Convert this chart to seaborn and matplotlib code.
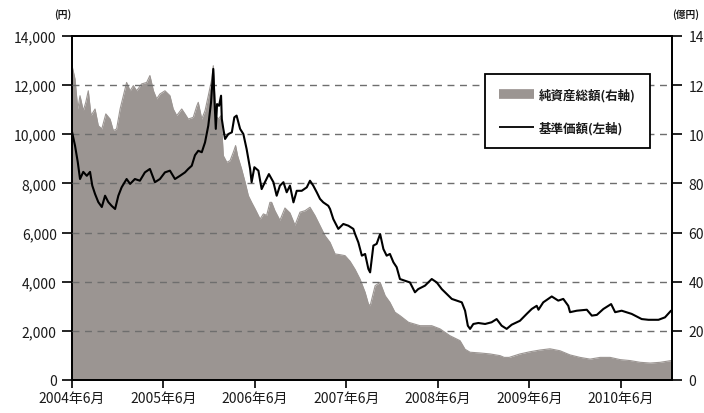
import matplotlib
matplotlib.use("Agg")
import matplotlib.pyplot as plt
from matplotlib.lines import Line2D
from matplotlib.ticker import FixedLocator, FuncFormatter
import seaborn as sns
import pandas as pd

# 基準価額 (left axis, 円)
nav_dates = [
    "2004-06-01", "2004-06-13", "2004-06-24", "2004-07-03", "2004-07-16", "2004-07-30",
    "2004-08-12", "2004-08-21", "2004-09-01", "2004-09-14", "2004-09-28", "2004-10-11",
    "2004-10-24", "2004-11-06", "2004-11-20", "2004-12-03", "2004-12-16", "2005-01-05",
    "2005-01-19", "2005-02-07", "2005-02-27", "2005-03-19", "2005-04-08", "2005-04-28",
    "2005-05-18", "2005-06-07", "2005-06-27", "2005-07-17", "2005-08-06", "2005-08-26",
    "2005-09-08", "2005-09-22", "2005-10-05", "2005-10-18", "2005-11-01", "2005-11-14",
    "2005-11-27", "2005-12-08", "2005-12-17", "2005-12-21", "2005-12-27", "2006-01-01",
    "2006-01-09", "2006-01-17", "2006-01-20", "2006-01-26", "2006-02-02", "2006-02-15",
    "2006-03-01", "2006-03-11", "2006-03-20", "2006-04-03", "2006-04-16", "2006-04-29",
    "2006-05-13", "2006-05-19", "2006-05-30", "2006-06-15", "2006-06-28", "2006-07-11",
    "2006-07-27", "2006-08-14", "2006-08-27", "2006-09-09", "2006-09-23", "2006-10-06",
    "2006-10-19", "2006-11-02", "2006-11-15", "2006-12-05", "2006-12-25", "2007-01-07",
    "2007-01-20", "2007-02-03", "2007-02-16", "2007-03-01", "2007-03-21", "2007-03-28",
    "2007-04-10", "2007-04-30", "2007-05-20", "2007-06-09", "2007-06-29", "2007-07-06",
    "2007-07-19", "2007-08-02", "2007-08-15", "2007-08-28", "2007-09-04", "2007-09-17",
    "2007-09-30", "2007-10-14", "2007-10-27", "2007-11-09", "2007-11-22", "2007-12-06",
    "2007-12-19", "2008-01-01", "2008-01-21", "2008-02-10", "2008-03-01", "2008-03-14",
    "2008-04-10", "2008-05-07", "2008-05-27", "2008-06-16", "2008-07-06", "2008-07-26",
    "2008-08-15", "2008-09-04", "2008-09-17", "2008-09-28", "2008-10-07", "2008-10-20",
    "2008-11-09", "2008-12-06", "2009-01-01", "2009-01-21", "2009-02-10", "2009-03-02",
    "2009-03-22", "2009-04-24", "2009-05-21", "2009-06-10", "2009-06-30", "2009-07-07",
    "2009-07-26", "2009-08-29", "2009-09-24", "2009-10-14", "2009-11-03", "2009-11-10",
    "2009-12-07", "2010-01-16", "2010-02-05", "2010-02-25", "2010-03-23", "2010-04-23",
    "2010-05-09", "2010-06-04", "2010-07-14", "2010-08-23", "2010-09-19", "2010-10-29",
    "2010-11-24", "2010-12-18",
]
nav_values = [
    10100, 9540, 8870, 8180, 8470, 8310,
    8470, 7910, 7570, 7240, 7040, 7500,
    7240, 7090, 6960, 7500, 7840, 8180,
    7980, 8180, 8110, 8450, 8590, 8050,
    8180, 8450, 8520, 8180, 8310, 8450,
    8590, 8720, 9150, 9330, 9270, 9670,
    10350, 11300, 12660, 11570, 10220, 11230,
    11160, 11570, 10620, 10220, 9810, 10010,
    10080, 10690, 10760, 10220, 10010, 9400,
    8590, 8050, 8660, 8520, 7770, 8050,
    8380, 8050, 7500, 7910, 8050, 7640,
    7910, 7230, 7700, 7700, 7840, 8110,
    7910, 7640, 7370, 7230, 7090, 6960,
    6550, 6150, 6350, 6280, 6150, 5940,
    5600, 5060, 5130, 4520, 4380, 5470,
    5540, 5940, 5330, 5060, 5130, 4790,
    4590, 4110, 4040, 3970, 3570, 3700,
    3840, 4110, 3970, 3700, 3500, 3300,
    3230, 3160, 2820, 2210, 2080, 2280,
    2320, 2280, 2350, 2480, 2210, 2080,
    2250, 2410, 2690, 2890, 3020, 2860,
    3160, 3400, 3230, 3300, 3020, 2760,
    2820, 2860, 2620, 2650, 2890, 3090,
    2760, 2820, 2690, 2480, 2450, 2450,
    2550, 2820,
]

# 純資産総額 (right axis, 億円)
aum_dates = [
    "2004-06-01", "2004-06-13", "2004-06-24", "2004-07-03", "2004-07-16", "2004-07-26",
    "2004-08-05", "2004-08-16", "2004-09-01", "2004-09-14", "2004-09-28", "2004-10-14",
    "2004-10-31", "2004-11-13", "2004-11-26", "2004-12-10", "2004-12-23", "2005-01-05",
    "2005-01-19", "2005-02-01", "2005-02-14", "2005-03-06", "2005-03-26", "2005-04-08",
    "2005-04-22", "2005-05-05", "2005-05-18", "2005-06-07", "2005-06-27", "2005-07-10",
    "2005-07-24", "2005-08-13", "2005-08-26", "2005-09-08", "2005-09-28", "2005-10-12",
    "2005-10-18", "2005-11-01", "2005-11-14", "2005-11-27", "2005-12-11", "2005-12-17",
    "2005-12-27", "2006-01-06", "2006-01-17", "2006-01-26", "2006-02-09", "2006-02-22",
    "2006-03-07", "2006-03-16", "2006-03-24", "2006-04-09", "2006-04-23", "2006-05-06",
    "2006-05-19", "2006-06-02", "2006-06-22", "2006-07-05", "2006-07-18", "2006-07-31",
    "2006-08-07", "2006-08-20", "2006-09-09", "2006-09-29", "2006-10-19", "2006-11-08",
    "2006-11-28", "2006-12-18", "2007-01-07", "2007-01-27", "2007-02-16", "2007-03-08",
    "2007-03-28", "2007-04-17", "2007-05-07", "2007-05-27", "2007-06-16", "2007-07-06",
    "2007-07-26", "2007-08-15", "2007-08-28", "2007-09-04", "2007-09-24", "2007-10-14",
    "2007-11-03", "2007-11-22", "2007-12-12", "2008-01-01", "2008-02-04", "2008-03-21",
    "2008-05-07", "2008-06-09", "2008-07-19", "2008-08-28", "2008-09-17", "2008-10-07",
    "2008-11-16", "2008-12-26", "2009-02-04", "2009-02-20", "2009-03-12", "2009-04-24",
    "2009-06-03", "2009-07-13", "2009-08-22", "2009-10-01", "2009-11-10", "2009-12-20",
    "2010-01-29", "2010-03-10", "2010-04-19", "2010-05-29", "2010-07-08", "2010-08-17",
    "2010-09-26", "2010-11-05", "2010-12-18",
]
aum_values = [
    1280, 1225, 1103, 1157, 1096, 1130,
    1177, 1076, 1103, 1035, 1022, 1083,
    1062, 1015, 1022, 1103, 1157, 1211,
    1177, 1198, 1177, 1205, 1211, 1239,
    1177, 1144, 1164, 1177, 1157, 1103,
    1076, 1103, 1083, 1062, 1069, 1115,
    1130, 1062, 1096, 1157, 1225, 1279,
    1076, 1062, 1076, 913, 886, 893,
    927, 954, 913, 859, 805, 750,
    723, 696, 655, 676, 670, 723,
    723, 689, 650, 700, 680, 630,
    683, 689, 703, 669, 628, 587,
    560, 513, 510, 506, 483, 450,
    410, 357, 310, 302, 384, 397,
    343, 316, 276, 262, 235, 221,
    221, 208, 180, 160, 125, 113,
    110, 106, 99, 92, 92, 106,
    115, 122, 127, 119, 102, 92,
    85, 92, 92, 83, 79, 72,
    69, 72, 79,
]

left_ticks = [0, 2000, 4000, 6000, 8000, 10000, 12000, 14000]
right_ticks = [0, 200, 400, 600, 800, 1000, 1200, 1400]
x_tick_dates = ["2004-06-01", "2005-06-01", "2006-06-01", "2007-06-01",
                "2008-06-01", "2009-06-01", "2010-06-01"]
x_tick_labels = ["2004年6月", "2005年6月", "2006年6月", "2007年6月",
                 "2008年6月", "2009年6月", "2010年6月"]
legend_labels = ["純資産総額(右軸)", "基準価額(左軸)"]
unit_left = "(円)"
unit_right = "(億円)"

sns.set_theme(style="white")
plt.rcParams["font.family"] = ["Noto Sans CJK JP", "DejaVu Sans"]

nav_df = pd.DataFrame({"date": pd.to_datetime(nav_dates), "nav": nav_values})
aum_df = pd.DataFrame({"date": pd.to_datetime(aum_dates), "aum": aum_values})

AREA = "#9b9592"
TXT = "#1a1a1a"

fig = plt.figure(figsize=(7.04, 4.14), dpi=100)
ax = fig.add_axes([72 / 704, 1 - 381 / 414, 600 / 704, 344 / 414])
ax2 = ax.twinx()

# area on right axis
ax2.fill_between(aum_df["date"], 0, aum_df["aum"], color=AREA, lw=0, zorder=1)
sns.lineplot(data=aum_df, x="date", y="aum", ax=ax2, color=AREA, lw=0.8, zorder=2)
ax2.set_ylim(0, 1400)

# line on left axis, drawn above area
ax.set_zorder(ax2.get_zorder() + 1)
ax.patch.set_visible(False)
sns.lineplot(data=nav_df, x="date", y="nav", ax=ax, color="black", lw=1.5, zorder=5)
ax.set_ylim(0, 14000)
ax.set_xlim(pd.Timestamp("2004-06-01"), pd.Timestamp("2010-12-22"))

for yv in left_ticks[1:-1]:
    ax.axhline(yv, color="#6e6e6e", lw=1.0, ls=(0, (5, 4)), zorder=3)

ax.yaxis.set_major_locator(FixedLocator(left_ticks))
ax.yaxis.set_major_formatter(FuncFormatter(lambda v, p: f"{int(v):,}"))
ax2.yaxis.set_major_locator(FixedLocator(right_ticks))
ax2.yaxis.set_major_formatter(FuncFormatter(lambda v, p: f"{int(v)}"))
ax.set_xticks(pd.to_datetime(x_tick_dates))
ax.set_xticklabels(x_tick_labels)

ax.set_xlabel("")
ax.set_ylabel("")
ax2.set_xlabel("")
ax2.set_ylabel("")

for a in (ax, ax2):
    for s in a.spines.values():
        s.set_color("black")
        s.set_linewidth(1.3)
ax.tick_params(axis="y", which="major", left=True, length=7, width=1.2,
               color="black", pad=4, labelsize=10, labelcolor=TXT)
ax.tick_params(axis="x", which="major", bottom=True, length=6, width=1.2,
               color="black", pad=2, labelsize=10, labelcolor=TXT)
ax2.tick_params(axis="y", which="major", right=True, length=7, width=1.2,
                color="black", pad=5, labelsize=10, labelcolor=TXT)

fig.text(63 / 704, 1 - 15 / 414, unit_left, ha="center", va="center",
         fontsize=7, color=TXT, fontweight="bold")
fig.text(686 / 704, 1 - 15 / 414, unit_right, ha="center", va="center",
         fontsize=7, color=TXT, fontweight="bold")

handles = [Line2D([0], [0], color=AREA, lw=7, solid_capstyle="butt"),
           Line2D([0], [0], color="black", lw=1.3, solid_capstyle="butt")]
leg = ax.legend(handles, legend_labels, loc="upper right",
                bbox_to_anchor=(0.963, 0.89), frameon=True, fancybox=False,
                edgecolor="black", framealpha=1, fontsize=9,
                handlelength=2.8, handletextpad=0.4, labelspacing=1.6,
                borderpad=1.1, borderaxespad=0)
leg.get_frame().set_linewidth(1.3)
leg.set_zorder(10)
for t in leg.get_texts():
    t.set_fontweight("bold")
    t.set_color(TXT)

fig.savefig("out.png", dpi=100)
